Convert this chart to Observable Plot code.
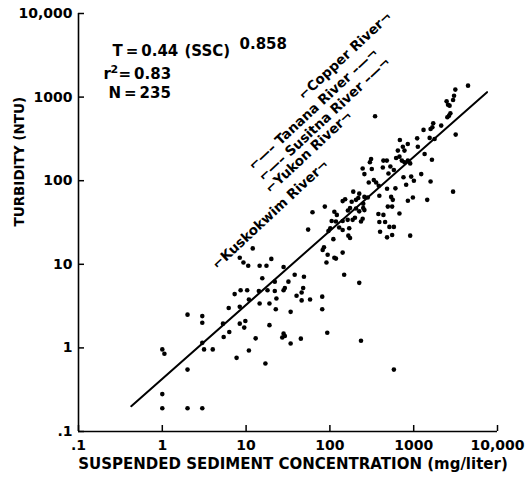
<!DOCTYPE html>
<html>
<head>
<meta charset="utf-8">
<script src="https://cdn.jsdelivr.net/npm/d3@7"></script>
<script src="https://cdn.jsdelivr.net/npm/@observablehq/plot@0.6"></script>
<style>
  html, body { margin: 0; padding: 0; background: #fff; }
</style>
</head>
<body>
<div id="chart"></div>
<script>
// Suspended sediment concentration (mg/liter) for each sample
const ssc = [
  2, 3, 3, 3, 1, 1.06, 3.15, 4, 2, 1, 1, 2, 3,
  62, 55, 12, 8.4, 9.3, 10.6, 14.5, 17.5, 20, 28, 15.6, 22, 32, 38, 49, 7.3, 8.6, 10.3, 14.2, 18, 22, 28, 29, 48, 40, 46, 58,
  6.2, 8.4, 10.8, 14.5, 19, 23, 22.6, 34, 5.3, 8.4, 9.8, 9.5, 6.3, 5.4, 19, 13, 28, 29, 27, 45, 34, 10.8, 7.7, 17,
  908, 91, 148, 224, 46, 81, 81, 93, 235, 580,
  310, 300, 246, 316, 435, 478, 428, 527, 580, 500, 258, 334, 356, 291, 383, 481, 605,
  190, 224, 218, 205, 152, 142, 182, 250, 258, 283, 389, 538, 563, 491, 553,
  205, 224, 174, 164, 250, 258, 113, 121, 87,
  105, 118, 142, 163, 187, 199, 235, 246, 379, 435, 389, 456, 513, 580, 397, 481, 553,
  96, 101, 129, 142, 170, 110, 166, 174, 85, 82, 94, 113, 118, 142,
  4450, 3140, 3030, 2950, 2470, 2570, 2680, 346, 2740, 2640, 2520, 2130, 1710, 1670, 1590, 1310, 3170,
  1100, 1550, 1775, 684, 850, 1120, 742, 776, 647, 617, 676, 722, 776, 1350, 1650, 852, 908,
  1230, 755, 933, 1005, 1590, 813, 978, 852, 1450, 2950, 676
];
// Turbidity (NTU) for each sample, same order
const turbidity = [
  2.5, 2.4, 2.0, 1.15, 0.96, 0.85, 0.96, 0.96, 0.55, 0.28, 0.19, 0.19, 0.19,
  42, 26, 15.5, 12, 10.5, 9.6, 9.6, 9.6, 11.6, 9.3, 6.8, 6.2, 6.2, 7.5, 7.1, 4.4, 4.9, 4.9, 4.8, 4.9, 4.8, 4.9, 5.2, 5.2, 4.2, 3.7, 3.8,
  3.0, 3.1, 3.8, 3.4, 3.4, 3.9, 2.9, 2.7, 1.95, 1.95, 2.1, 1.75, 1.55, 1.35, 1.87, 1.3, 1.48, 1.39, 1.33, 1.29, 1.13, 0.93, 0.76, 0.65,
  22, 10.5, 7.5, 6, 4.6, 4.1, 2.9, 1.52, 1.22, 0.55,
  182, 166, 140, 138, 174, 174, 144, 148, 134, 122, 120, 102, 95, 95, 87, 80, 81,
  74, 70, 62, 59, 60, 57, 56, 53, 64, 63, 66, 64, 59, 49, 49,
  46.5, 43, 47, 44, 47, 44.5, 42.5, 39, 49,
  33, 32.5, 33, 34, 34, 36, 32.5, 35, 40, 39, 32, 32, 28, 28, 24.5, 21, 22.4,
  25, 27, 27.6, 25.7, 27, 20, 22, 20.6, 16, 14.8, 13, 12, 11.7, 13.8,
  1370, 1230, 1040, 925, 890, 810, 790, 590, 640, 600, 573, 456, 486, 435, 416, 405, 356,
  321, 325, 316, 307, 275, 255, 255, 229, 229, 187, 194, 174, 166, 209, 178, 174, 161,
  120, 110, 112, 100, 98, 89.5, 63, 57.6, 59, 74, 40.6
];

// Fitted relation T = 0.44 (SSC)^0.858, ends as drawn
const fitSSC = [0.426, 7500];
const fitT = [0.201, 1145];

// Axis ticks and their labels
const tickValues = [0.1, 1, 10, 100, 1000, 10000];
const tickLabels = [".1", "1", "10", "100", "1000", "10,000"];

// River range labels and where they sit
const riverLabels = [
  "\u2310Copper River\u00AC",
  "\u2310\u2014\u2013 Tanana River \u2013\u2014\u00AC",
  "\u2310\u2014\u2013 Susitna River \u2013\u2014\u00AC",
  "\u2310Yukon River\u00AC",
  "\u2310Kuskokwim River\u00AC"
];
const riverLabelSSC = [45, 11.4, 15, 18, 4.2];
const riverLabelT = [1000, 145, 106, 76, 9.4];

const points = ssc.map((x, i) => ({x, y: turbidity[i]}));
const labels = riverLabels.map((t, i) => ({t, x: riverLabelSSC[i], y: riverLabelT[i]}));
const fit = fitSSC.map((x, i) => ({x, y: fitT[i]}));
const fmt = d => tickLabels[tickValues.indexOf(d)];

const W = 529, H = 492;
const mL = 78, mR = 32, mT = 13, mB = 61;
const frameW = W - mL - mR, frameH = H - mT - mB;
const txt = {fontFamily: "DejaVu Sans", fontWeight: "bold"};

const chart = Plot.plot({
  width: W,
  height: H,
  marginLeft: mL,
  marginRight: mR,
  marginTop: mT,
  marginBottom: mB,
  style: {background: "#fff", color: "#000", fontFamily: "DejaVu Sans", fontWeight: "bold", fontSize: "14px"},
  x: {type: "log", domain: [0.1, 10000]},
  y: {type: "log", domain: [0.1, 10000]},
  marks: [
    Plot.ruleY([0.1], {stroke: "#000", strokeWidth: 1.6}),
    Plot.ruleX([0.1], {stroke: "#000", strokeWidth: 1.6}),
    Plot.tickX(tickValues, {x: d => d, insetTop: frameH - 6, stroke: "#000", strokeWidth: 1.5}),
    Plot.tickY(tickValues, {y: d => d, insetRight: frameW - 6, stroke: "#000", strokeWidth: 1.5}),
    Plot.axisX(tickValues, {tickSize: 0, tickPadding: 9, tickFormat: fmt, label: null, fontSize: 14, fill: "#000"}),
    Plot.axisY(tickValues, {tickSize: 0, tickPadding: 6, tickFormat: fmt, label: null, fontSize: 14, fill: "#000"}),
    Plot.line(fit, {x: "x", y: "y", stroke: "#000", strokeWidth: 2}),
    Plot.dot(points, {x: "x", y: "y", r: 2.3, fill: "#000"}),
    Plot.text(labels, {x: "x", y: "y", text: "t", rotate: -43, textAnchor: "start", fontSize: 13.5, fill: "#000", ...txt}),
    Plot.text(["T\u2009=\u20090.44"], {frameAnchor: "top-left", dx: 34, dy: 42.5, textAnchor: "start", lineAnchor: "bottom", fontSize: 15, ...txt}),
    Plot.text(["(SSC)"], {frameAnchor: "top-left", dx: 106, dy: 42.5, textAnchor: "start", lineAnchor: "bottom", fontSize: 15, ...txt}),
    Plot.text(["0.858"], {frameAnchor: "top-left", dx: 161, dy: 35.5, textAnchor: "start", lineAnchor: "bottom", fontSize: 15, ...txt}),
    Plot.text(["r"], {frameAnchor: "top-left", dx: 25, dy: 65, textAnchor: "start", lineAnchor: "bottom", fontSize: 15, ...txt}),
    Plot.text(["2"], {frameAnchor: "top-left", dx: 32, dy: 59, textAnchor: "start", lineAnchor: "bottom", fontSize: 11, ...txt}),
    Plot.text(["=\u20090.83"], {frameAnchor: "top-left", dx: 40, dy: 65, textAnchor: "start", lineAnchor: "bottom", fontSize: 15, ...txt}),
    Plot.text(["N\u2009=\u2009235"], {frameAnchor: "top-left", dx: 30, dy: 84, textAnchor: "start", lineAnchor: "bottom", fontSize: 15, ...txt}),
    Plot.text(["SUSPENDED SEDIMENT CONCENTRATION (mg/liter)"], {frameAnchor: "bottom", dx: 5, dy: 37, fontSize: 15, ...txt}),
    Plot.text(["TURBIDITY (NTU)"], {frameAnchor: "left", dx: -59, dy: 4, rotate: -90, fontSize: 13.5, ...txt})
  ]
});
document.getElementById("chart").appendChild(chart);
</script>
</body>
</html>
